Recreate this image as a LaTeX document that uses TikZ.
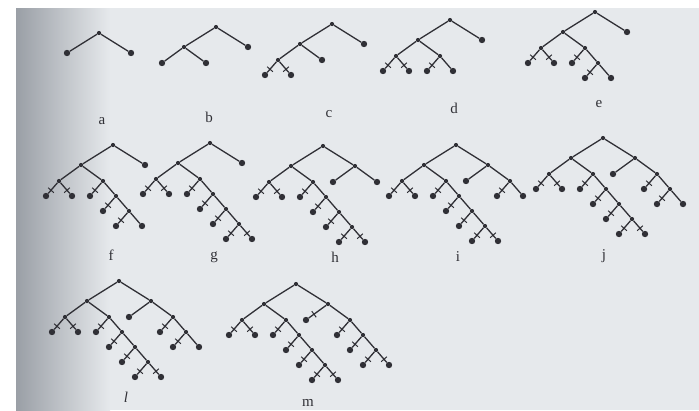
\documentclass[tikz,border=0pt]{standalone}
\usepackage{xcolor}
\usepackage{fontspec}
\setmainfont{Liberation Serif}
\usetikzlibrary{calc}
\definecolor{paper}{HTML}{E6E9EC}
\definecolor{shadow}{HTML}{9A9FA6}
\definecolor{ink}{HTML}{303036}

\begin{document}
\begin{tikzpicture}[
    x=1pt, y=-1pt,
    every node/.style={font=\fontsize{15}{17}\selectfont, text=ink},
    inner/.style={circle, fill=ink, inner sep=0pt, minimum size=4.2pt},
    leaf/.style={circle, fill=ink, inner sep=0pt, minimum size=6.4pt},
    cut/.style={sloped, pos=0.7, draw=ink, line width=1pt, inner sep=0pt,
                minimum width=0pt, minimum height=7.5pt},
    edge from parent/.style={draw=ink, line width=1.3pt},
    level/.style={level distance=15pt, sibling distance=26pt},
    level 1/.style={level distance=20pt, sibling distance=64pt},
    level 2/.style={level distance=16pt, sibling distance=44pt},
]
\useasboundingbox (0,0) rectangle (699,410);
% scanned page
\fill[white] (0,0) rectangle (699,410);
\fill[paper] (16,8) rectangle (699,410);
\shade[left color=shadow, right color=paper] (16,8) rectangle (110,410);

% row 1
\node[inner] (a) at (99,33) {}
    child {node[leaf] {}}
    child {node[leaf] {}};
\node[inner] (b) at (216,27) {}
    child {node[inner] {}
        child {node[leaf] {}}
        child {node[leaf] {}}}
    child {node[leaf] {}};
\node[inner] (c) at (332,24) {}
    child {node[inner] {}
        child {node[inner] {}
            child {node[leaf] {} edge from parent node[cut] {}}
            child {node[leaf] {} edge from parent node[cut] {}}}
        child {node[leaf] {}}}
    child {node[leaf] {}};
\node[inner] (d) at (450,20) {}
    child {node[inner] {}
        child {node[inner] {}
            child {node[leaf] {} edge from parent node[cut] {}}
            child {node[leaf] {} edge from parent node[cut] {}}}
        child {node[inner] {}
            child {node[leaf] {} edge from parent node[cut] {}}
            child {node[leaf] {}}}}
    child {node[leaf] {}};
\node[inner] (e) at (595,12) {}
    child {node[inner] {}
        child {node[inner] {}
            child {node[leaf] {} edge from parent node[cut] {}}
            child {node[leaf] {} edge from parent node[cut] {}}}
        child {node[inner] {}
            child {node[leaf] {} edge from parent node[cut] {}}
            child {node[inner] {}
                child {node[leaf] {} edge from parent node[cut] {}}
                child {node[leaf] {}}}}}
    child {node[leaf] {}};

% row 2
\node[inner] (f) at (113,145) {}
    child {node[inner] {}
        child {node[inner] {}
            child {node[leaf] {} edge from parent node[cut] {}}
            child {node[leaf] {} edge from parent node[cut] {}}}
        child {node[inner] {}
            child {node[leaf] {} edge from parent node[cut] {}}
            child {node[inner] {}
                child {node[leaf] {} edge from parent node[cut] {}}
                child {node[inner] {}
                    child {node[leaf] {} edge from parent node[cut] {}}
                    child {node[leaf] {}}}}}}
    child {node[leaf] {}};
\node[inner] (g) at (210,143) {}
    child {node[inner] {}
        child {node[inner] {}
            child {node[leaf] {} edge from parent node[cut] {}}
            child {node[leaf] {} edge from parent node[cut] {}}}
        child {node[inner] {}
            child {node[leaf] {} edge from parent node[cut] {}}
            child {node[inner] {}
                child {node[leaf] {} edge from parent node[cut] {}}
                child {node[inner] {}
                    child {node[leaf] {} edge from parent node[cut] {}}
                    child {node[inner] {}
                        child {node[leaf] {} edge from parent node[cut] {}}
                        child {node[leaf] {} edge from parent node[cut] {}}}}}}}
    child {node[leaf] {}};
\node[inner] (h) at (323,146) {}
    child {node[inner] {}
        child {node[inner] {}
            child {node[leaf] {} edge from parent node[cut] {}}
            child {node[leaf] {} edge from parent node[cut] {}}}
        child {node[inner] {}
            child {node[leaf] {} edge from parent node[cut] {}}
            child {node[inner] {}
                child {node[leaf] {} edge from parent node[cut] {}}
                child {node[inner] {}
                    child {node[leaf] {} edge from parent node[cut] {}}
                    child {node[inner] {}
                        child {node[leaf] {} edge from parent node[cut] {}}
                        child {node[leaf] {} edge from parent node[cut] {}}}}}}}
    child {node[inner] {}
        child {node[leaf] {}}
        child {node[leaf] {}}};
\node[inner] (i) at (456,145) {}
    child {node[inner] {}
        child {node[inner] {}
            child {node[leaf] {} edge from parent node[cut] {}}
            child {node[leaf] {} edge from parent node[cut] {}}}
        child {node[inner] {}
            child {node[leaf] {} edge from parent node[cut] {}}
            child {node[inner] {}
                child {node[leaf] {} edge from parent node[cut] {}}
                child {node[inner] {}
                    child {node[leaf] {} edge from parent node[cut] {}}
                    child {node[inner] {}
                        child {node[leaf] {} edge from parent node[cut] {}}
                        child {node[leaf] {} edge from parent node[cut] {}}}}}}}
    child {node[inner] {}
        child {node[leaf] {}}
        child {node[inner] {}
            child {node[leaf] {} edge from parent node[cut] {}}
            child {node[leaf] {}}}};
\node[inner] (j) at (603,138) {}
    child {node[inner] {}
        child {node[inner] {}
            child {node[leaf] {} edge from parent node[cut] {}}
            child {node[leaf] {} edge from parent node[cut] {}}}
        child {node[inner] {}
            child {node[leaf] {} edge from parent node[cut] {}}
            child {node[inner] {}
                child {node[leaf] {} edge from parent node[cut] {}}
                child {node[inner] {}
                    child {node[leaf] {} edge from parent node[cut] {}}
                    child {node[inner] {}
                        child {node[leaf] {} edge from parent node[cut] {}}
                        child {node[leaf] {} edge from parent node[cut] {}}}}}}}
    child {node[inner] {}
        child {node[leaf] {}}
        child {node[inner] {}
            child {node[leaf] {} edge from parent node[cut] {}}
            child {node[inner] {}
                child {node[leaf] {} edge from parent node[cut] {}}
                child {node[leaf] {}}}}};

% row 3
\node[inner] (l) at (119,281) {}
    child {node[inner] {}
        child {node[inner] {}
            child {node[leaf] {} edge from parent node[cut] {}}
            child {node[leaf] {} edge from parent node[cut] {}}}
        child {node[inner] {}
            child {node[leaf] {} edge from parent node[cut] {}}
            child {node[inner] {}
                child {node[leaf] {} edge from parent node[cut] {}}
                child {node[inner] {}
                    child {node[leaf] {} edge from parent node[cut] {}}
                    child {node[inner] {}
                        child {node[leaf] {} edge from parent node[cut] {}}
                        child {node[leaf] {} edge from parent node[cut] {}}}}}}}
    child {node[inner] {}
        child {node[leaf] {}}
        child {node[inner] {}
            child {node[leaf] {} edge from parent node[cut] {}}
            child {node[inner] {}
                child {node[leaf] {} edge from parent node[cut] {}}
                child {node[leaf] {}}}}};
\node[inner] (m) at (296,284) {}
    child {node[inner] {}
        child {node[inner] {}
            child {node[leaf] {} edge from parent node[cut] {}}
            child {node[leaf] {} edge from parent node[cut] {}}}
        child {node[inner] {}
            child {node[leaf] {} edge from parent node[cut] {}}
            child {node[inner] {}
                child {node[leaf] {} edge from parent node[cut] {}}
                child {node[inner] {}
                    child {node[leaf] {} edge from parent node[cut] {}}
                    child {node[inner] {}
                        child {node[leaf] {} edge from parent node[cut] {}}
                        child {node[leaf] {} edge from parent node[cut] {}}}}}}}
    child {node[inner] {}
        child {node[leaf] {} edge from parent node[cut] {}}
        child {node[inner] {}
            child {node[leaf] {} edge from parent node[cut] {}}
            child {node[inner] {}
                child {node[leaf] {} edge from parent node[cut] {}}
                child {node[inner] {}
                    child {node[leaf] {} edge from parent node[cut] {}}
                    child {node[leaf] {} edge from parent node[cut] {}}}}}};

% labels
\node[anchor=base] (aLabel) at (102,124) {a};
\node[anchor=base] (bLabel) at (209,122) {b};
\node[anchor=base] (cLabel) at (329,117) {c};
\node[anchor=base] (dLabel) at (454,113) {d};
\node[anchor=base] (eLabel) at (599,107) {e};
\node[anchor=base] (fLabel) at (111,260) {f};
\node[anchor=base] (gLabel) at (214,259) {g};
\node[anchor=base] (hLabel) at (335,262) {h};
\node[anchor=base] (iLabel) at (458,261) {i};
\node[anchor=base] (jLabel) at (604,259) {j};
\node[anchor=base] (lLabel) at (126,402) {\itshape l};
\node[anchor=base] (mLabel) at (308,406) {m};
\end{tikzpicture}
\end{document}
